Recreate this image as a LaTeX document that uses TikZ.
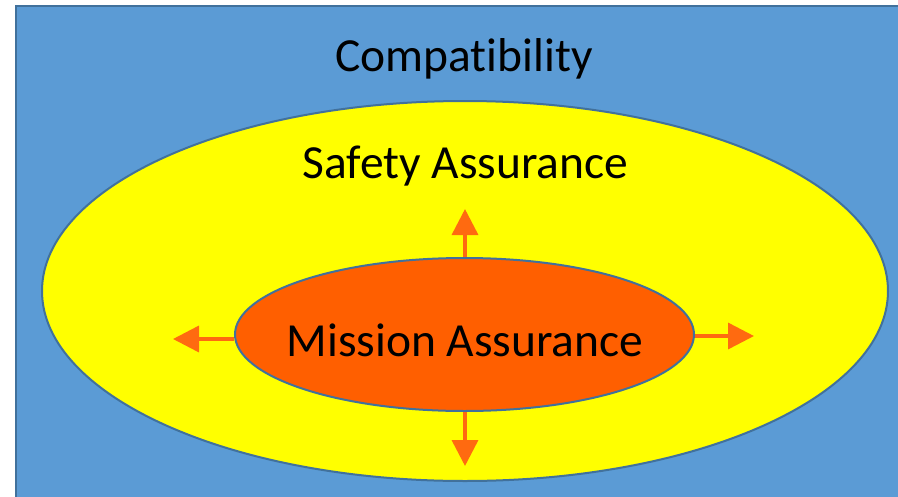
\documentclass[tikz,border=0pt]{standalone}
\usepackage{fontspec}
\setmainfont{Carlito}[RawFeature={-liga;-clig;-calt;-dlig}]
\usetikzlibrary{positioning}
\usetikzlibrary{shapes.geometric}
\usetikzlibrary{arrows.meta}
\usepackage{xcolor}
\definecolor{bgblue}{HTML}{5B9BD5}
\definecolor{edgeblue}{HTML}{41719C}
\definecolor{sunyellow}{HTML}{FFFF00}
\definecolor{missionorange}{HTML}{FF5F00}
\definecolor{arroworange}{HTML}{FF6A10}
\tikzset{
	zone/.style={ellipse, draw=edgeblue, line width=2pt, inner sep=0},
	spreadarrow/.style={arroworange, line width=3.5pt, -{Triangle[length=26pt,width=26pt]}},
	caption/.style={font=\fontsize{47.5}{57}\selectfont, anchor=base, inner sep=0}
}

\begin{document}
\begin{tikzpicture}[x=1pt, y=-1pt]
				    		\useasboundingbox (0,0) rectangle (898,496);
				    		\draw[edgeblue, fill=bgblue, line width=2pt] (16,6) rectangle (912,512);
				    		\node[zone, fill=sunyellow, minimum width=846pt, minimum height=380pt] (safety) at (465,291) {};
				    		\node[zone, fill=missionorange, minimum width=459pt, minimum height=153pt] (mission) at (464.5,334.5) {};
				    		% free ends of the arrows
				    		\coordinate (lefttip) at (173,339);
				    		\coordinate (righttip) at (754,336);
				    		\coordinate (uptip) at (465,209);
				    		\coordinate (downtip) at (465,466);
				    		\draw[spreadarrow] (mission.west |- lefttip) -- (lefttip);
				    		\draw[spreadarrow] (mission.east |- righttip) -- (righttip);
				    		\draw[spreadarrow] (uptip |- mission.north) -- (uptip);
				    		\draw[spreadarrow] (downtip |- mission.south) -- (downtip);
				    		\node[caption] (compat) at (464,71) {Compatibility};
				    		\node[caption] (safetytext) at (465.5,178) {Safety Assurance};
				    		\node[caption] (missiontext) at (465,356) {Mission Assurance};
				    	\end{tikzpicture}
\end{document}
